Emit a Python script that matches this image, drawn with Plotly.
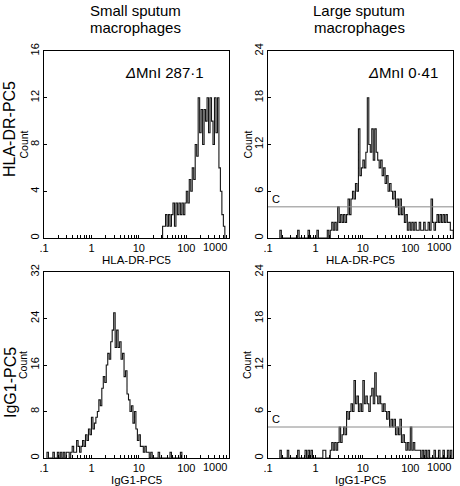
import plotly.graph_objects as go

# ---------------- data ----------------
BINS_PER_DECADE = 32          # histogram channels per decade (log scale)
LOG_MIN = -1.0                # axis starts at 0.1
LOG_MAX = 2.9

col_titles = [["Small sputum", "macrophages"], ["Large sputum", "macrophages"]]
row_titles = ["HLA-DR-PC5", "IgG1-PC5"]
x_titles = ["HLA-DR-PC5", "IgG1-PC5"]
tick_labels = [".1", "1", "10", "100"]
tick_values = [0.1, 1, 10, 100]
last_tick_label = "1000"
delta_mni = ["287\u00b71", "0\u00b741"]
gate_level = 4
gate_label = "C"

y_max = [16, 24, 32, 24]
y_step = [4, 6, 8, 6]

# top-left: HLA-DR-PC5, small macrophages (first channel, counts)
hla_small_start = 80
hla_small_counts = [1, 1, 2, 1, 2, 1, 2, 3, 1, 3,
                    2, 3, 2, 3, 2, 3, 4, 3, 5, 4,
                    6, 5, 8, 7, 12, 9, 11, 8, 11, 10,
                    12, 9, 12, 10, 8, 12, 9, 12, 6, 4,
                    2, 1]

# top-right: HLA-DR-PC5, large macrophages
hla_large_start = 8
hla_large_counts = [1, 0, 0, 0, 0, 0, 0, 0, 0, 0, 0, 0, 1, 0, 0, 0, 0, 0, 0, 1,
                    0, 0, 0, 0, 0, 1, 0, 0, 0, 0, 0, 0, 1, 0,
                    1, 2, 1, 2, 1, 4, 2, 3, 2, 3,
                    2, 3, 5, 3, 5, 6, 5, 7, 6, 14,
                    8, 9, 10, 9, 11, 18, 12, 11, 14, 10,
                    14, 11, 10, 9, 10, 8, 9, 7, 8, 6,
                    7, 6, 5, 6, 4, 5, 3, 5, 3, 4,
                    2, 3, 1, 2, 1, 2, 1, 2, 1, 1,
                    2, 1, 1, 2, 1, 1, 2, 1, 5, 2,
                    1, 2, 3, 2, 3, 2, 3, 2, 3, 2,
                    2, 1, 1]

# bottom-left: IgG1-PC5, small macrophages
igg_small_start = 2
igg_small_counts = [1, 0, 0, 0, 1, 0, 0, 1, 0, 1, 0, 1, 0, 1, 1, 0, 1,
                    2, 1, 1, 3, 2, 1, 2, 3, 2, 4,
                    3, 5, 4, 7, 5, 6, 7, 8, 10, 9,
                    12, 14, 13, 16, 18, 17, 20, 22, 25, 19,
                    22, 19, 20, 17, 18, 14, 15, 11, 10, 8,
                    9, 6, 8, 5, 3, 4, 2, 2, 1, 2,
                    1, 1,
                    0, 1, 0, 0, 0, 0, 1, 0, 0, 0, 0, 0, 0, 0, 1, 0, 0, 0, 0, 0, 0, 1]

# bottom-right: IgG1-PC5, large macrophages
igg_large_start = 8
igg_large_counts = [1, 0, 0, 0, 0, 1, 0, 0, 0, 0, 0, 0, 1, 0, 0, 0, 0, 1, 0, 1,
                    0, 1, 0, 0, 0, 0, 0, 0, 0, 1, 1, 0, 0, 0,
                    1, 2, 1, 2, 1, 2, 4, 2, 3, 4,
                    3, 6, 5, 6, 7, 6, 10, 7, 8, 6,
                    7, 6, 10, 7, 8, 7, 6, 8, 9, 7,
                    11, 8, 7, 8, 7, 6, 7, 6, 5, 6,
                    4, 5, 4, 5, 3, 4, 3, 5, 2, 3,
                    2, 1, 2, 1, 4, 1, 2, 1, 1, 1,
                    1,
                    0, 1, 0, 1, 0, 1, 0, 0, 0, 1, 0, 0, 1, 0, 0, 1, 0, 0, 1, 0, 1]

panels = [
    (hla_small_start, hla_small_counts),
    (hla_large_start, hla_large_counts),
    (igg_small_start, igg_small_counts),
    (igg_large_start, igg_large_counts),
]

# ---------------- layout geometry ----------------
W, H = 460, 486
FONT = "Liberation Sans, Arial, Helvetica, sans-serif"
x_domains = [[44 / W, 229 / W], [268 / W, 453 / W]]
y_domains = [[(H - 238) / H, (H - 51) / H], [(H - 458) / H, (H - 272) / H]]
delta_x = [0.876, 0.93]
row_title_y = [129, 383]


def step_outline(start, counts):
    xs, ys = [], []
    for i, n in enumerate(counts):
        ch = start + i
        xl = 10 ** (LOG_MIN + ch / BINS_PER_DECADE)
        xr = 10 ** (LOG_MIN + (ch + 1) / BINS_PER_DECADE)
        if i == 0:
            xs.append(xl); ys.append(0)
        xs += [xl, xr]
        ys += [n, n]
    xs.append(xs[-1]); ys.append(0)
    return xs, ys


minor_vals = []
for dec in range(-1, 3):
    for m in range(1, 10):
        v = m * 10 ** dec
        if v <= 10 ** LOG_MAX:
            minor_vals.append(v)
minor_text = []
for v in minor_vals:
    lab = ""
    for tv, tl in zip(tick_values, tick_labels):
        if abs(v - tv) < 1e-9:
            lab = tl
    minor_text.append(lab)

fig = go.Figure()
annotations = []
shapes = []

for k, (start, counts) in enumerate(panels):
    r, c = divmod(k, 2)
    ax = "" if k == 0 else str(k + 1)
    xs, ys = step_outline(start, counts)
    fig.add_trace(go.Scatter(x=xs, y=ys, mode="lines",
                             line=dict(color="#151515", width=1.1),
                             xaxis="x" + ax, yaxis="y" + ax,
                             hoverinfo="skip", showlegend=False))
    xa = dict(type="log", range=[LOG_MIN, LOG_MAX], domain=x_domains[c],
              anchor="y" + ax, tickvals=minor_vals, ticktext=minor_text,
              ticks="inside", ticklen=3, tickwidth=1, tickcolor="black",
              showline=True, linecolor="black", linewidth=1, mirror=True,
              showgrid=False, zeroline=False, automargin=False,
              tickfont=dict(family=FONT, size=11, color="black"))
    ya = dict(range=[0, y_max[k]], domain=y_domains[r], anchor="x" + ax,
              tickvals=list(range(0, y_max[k] + 1, y_step[k])),
              tickangle=-90, ticks="inside", ticklen=3, tickwidth=1,
              tickcolor="black", showline=True, linecolor="black",
              linewidth=1, mirror=True, showgrid=False, zeroline=False,
              automargin=False,
              tickfont=dict(family=FONT, size=11, color="black"))
    fig.update_layout(**{"xaxis" + ax: xa, "yaxis" + ax: ya})

    # "1000" label right-aligned at the axis end
    annotations.append(dict(text=last_tick_label, xref="x" + ax + " domain",
                            yref="y" + ax + " domain", x=1.0, y=0,
                            xanchor="right", yanchor="top", yshift=-1,
                            showarrow=False,
                            font=dict(family=FONT, size=11, color="black")))
    # x axis title
    annotations.append(dict(text=x_titles[r], xref="x" + ax + " domain",
                            yref="y" + ax + " domain", x=0.5, y=0,
                            xanchor="center", yanchor="top", yshift=-14,
                            showarrow=False,
                            font=dict(family=FONT, size=11.5, color="black")))
    # Count label
    annotations.append(dict(text="Count", xref="paper", yref="y" + ax + " domain",
                            x=(x_domains[c][0] * W - 21) / W, y=0.5,
                            xanchor="center", yanchor="middle", textangle=-90,
                            showarrow=False,
                            font=dict(family=FONT, size=10.5, color="black")))
    # gate line for large macrophages
    if c == 1:
        shapes.append(dict(type="line", xref="x" + ax + " domain", yref="y" + ax,
                           x0=0, x1=1, y0=gate_level, y1=gate_level,
                           line=dict(color="#8a8a8a", width=1)))
        annotations.append(dict(text=gate_label, xref="x" + ax + " domain",
                                yref="y" + ax, x=0.012, y=gate_level,
                                xanchor="left", yanchor="bottom", yshift=0,
                                showarrow=False,
                                font=dict(family=FONT, size=11, color="black")))
    # delta MnI
    if r == 0:
        annotations.append(dict(text="<i>\u0394</i>MnI " + delta_mni[c],
                                xref="x" + ax + " domain", yref="y" + ax + " domain",
                                x=delta_x[c], y=0.885, xanchor="right",
                                yanchor="middle", showarrow=False,
                                font=dict(family=FONT, size=15, color="black")))

# column titles (two lines each)
for c in range(2):
    for li, (line, ypx) in enumerate(zip(col_titles[c], [11, 28])):
        annotations.append(dict(text=line, xref="paper", yref="paper",
                                x=sum(x_domains[c]) / 2 - 0.003, y=(H - ypx) / H,
                                xanchor="center", yanchor="middle", showarrow=False,
                                font=dict(family=FONT, size=15, color="black")))
# row titles
for r in range(2):
    annotations.append(dict(text=row_titles[r], xref="paper", yref="paper",
                            x=10 / W, y=(H - row_title_y[r]) / H,
                            xanchor="center", yanchor="middle", textangle=-90,
                            showarrow=False,
                            font=dict(family=FONT, size=16, color="black")))

fig.update_layout(template="none", width=W, height=H,
                  margin=dict(l=0, r=0, t=0, b=0, autoexpand=False),
                  paper_bgcolor="white", plot_bgcolor="white",
                  annotations=annotations, shapes=shapes,
                  font=dict(family=FONT, color="black"))

fig.write_html("out.html", config={"displayModeBar": False},
               post_script="document.body.style.margin='0';"
                           "document.body.style.overflow='hidden';")
